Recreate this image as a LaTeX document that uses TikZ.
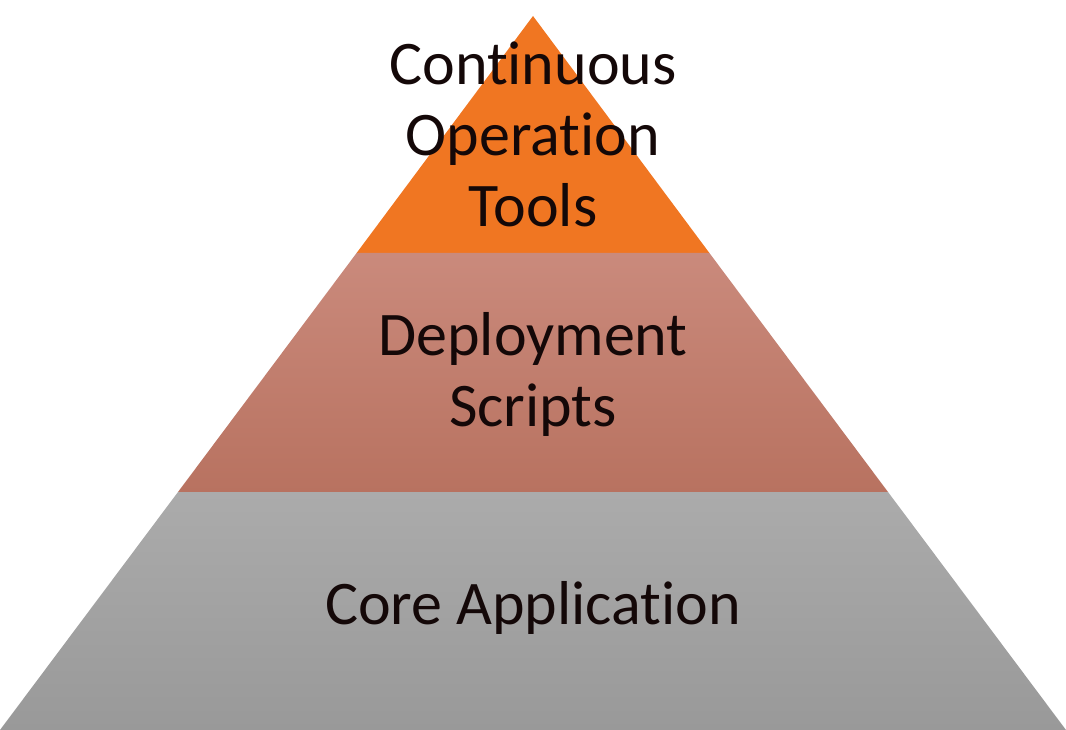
\documentclass[tikz,border=0pt]{standalone}
\usepackage{fontspec}
\setmainfont[Ligatures={NoCommon}]{Carlito}
\definecolor{toporange}{HTML}{F07622}
\definecolor{midtop}{HTML}{CA8A7C}
\definecolor{midbot}{HTML}{B87260}
\definecolor{graytop}{HTML}{ABABAB}
\definecolor{graybot}{HTML}{999999}
\definecolor{txt}{HTML}{140808}
\begin{document}
\begin{tikzpicture}[x=1pt,y=-1pt,
  lbl/.style={text=txt,font=\fontsize{62}{71}\selectfont,align=center,inner sep=0pt}]
\useasboundingbox (0,0) rectangle (1066,730);
\coordinate (apex) at (533,16);
\coordinate (l1) at (356.6,253);
\coordinate (r1) at (709.4,253);
\coordinate (l2) at (178,492);
\coordinate (r2) at (888,492);
\coordinate (l3) at (0,730);
\coordinate (r3) at (1066,730);
\fill[toporange] (apex) -- (r1) -- (l1) -- cycle;
\shade[top color=midtop,bottom color=midbot] (l1) -- (r1) -- (r2) -- (l2) -- cycle;
\shade[top color=graytop,bottom color=graybot] (l2) -- (r2) -- (r3) -- (l3) -- cycle;
\node[lbl] (t1) at (533,134) {Continuous\\Operation\\Tools};
\node[lbl] (t2) at (533,374) {Deployment\\Scripts};
\node[lbl] (t3) at (533,608) {Core Application};
\end{tikzpicture}
\end{document}
